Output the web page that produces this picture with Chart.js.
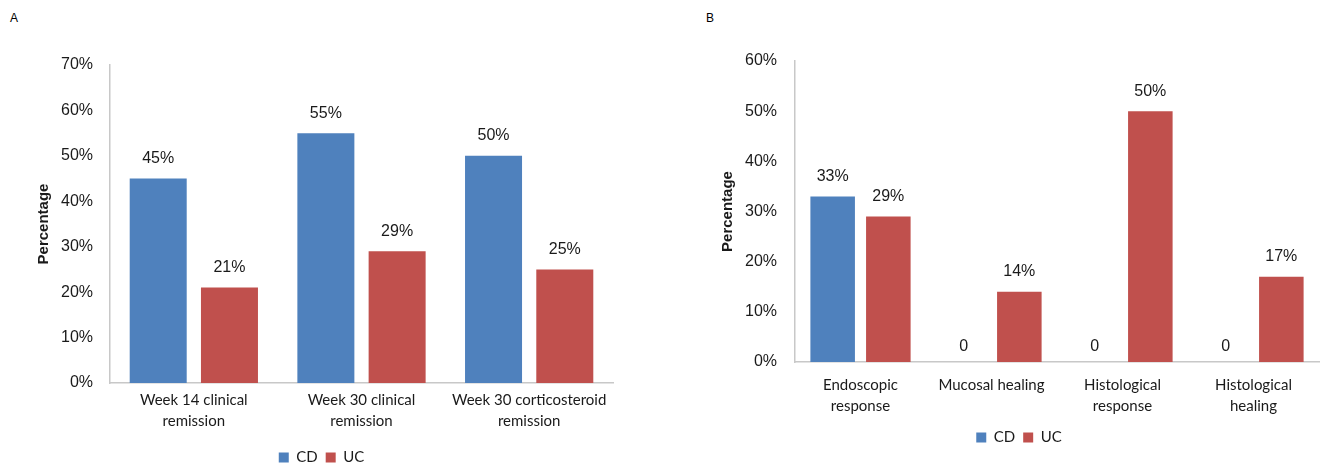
<!DOCTYPE html>
<html>
<head>
<meta charset="utf-8">
<script src="https://cdn.jsdelivr.net/npm/chart.js@4.4.1/dist/chart.umd.min.js"></script>
<style>
  html, body { margin: 0; padding: 0; background: #fff; overflow: hidden; width: 1321px; height: 466px; }
  .panel { position: absolute; top: 0; }
  .tag { position: absolute; top: 11px; font: 12px "Liberation Sans", Arial, sans-serif; color: #000; }
</style>
</head>
<body>
<div class="tag" style="left:10px">A</div>
<div class="tag" style="left:706px">B</div>
<canvas id="chartA" class="panel" style="left:0" width="660" height="475"></canvas>
<canvas id="chartB" class="panel" style="left:660px" width="661" height="455"></canvas>
<script>
const seriesNames = ["CD", "UC"];
const colors = ["#4f81bd", "#c0504d"];

const categoriesA = [
  ["Week 14 clinical", "remission"],
  ["Week 30 clinical", "remission"],
  ["Week 30 corticosteroid", "remission"]
];
const cdA = [45, 55, 50];
const ucA = [21, 29, 25];
const ticksA = { max: 70, step: 10 };

const categoriesB = [
  ["Endoscopic", "response"],
  "Mucosal healing",
  ["Histological", "response"],
  ["Histological", "healing"]
];
const cdB = [33, 0, 0, 0];
const ucB = [29, 14, 50, 17];
const ticksB = { max: 60, step: 10 };

const textColor = "#1a1a1a";

// draws the value above each bar, "0" for empty ones
const valueLabels = {
  id: "valueLabels",
  afterDatasetsDraw(chart) {
    const ctx = chart.ctx;
    ctx.save();
    ctx.font = "16px 'Liberation Sans', Arial, sans-serif";
    ctx.fillStyle = textColor;
    ctx.textAlign = "center";
    ctx.textBaseline = "middle";
    chart.data.datasets.forEach((ds, i) => {
      chart.getDatasetMeta(i).data.forEach((bar, j) => {
        const v = ds.data[j];
        const txt = v === 0 ? "0" : v + "%";
        ctx.fillText(txt, bar.x, bar.y - (v === 0 ? 15 : 20));
      });
    });
    ctx.restore();
  }
};

function makeChart(id, labels, cd, uc, yt, lay) {
  return new Chart(document.getElementById(id), {
    type: "bar",
    data: {
      labels: labels,
      datasets: [
        { label: seriesNames[0], data: cd, backgroundColor: colors[0] },
        { label: seriesNames[1], data: uc, backgroundColor: colors[1] }
      ]
    },
    options: {
      responsive: false,
      animation: false,
      categoryPercentage: 0.85,
      barPercentage: 0.8,
      layout: { padding: { left: lay.left, right: lay.right, top: lay.top, bottom: 0 } },
      plugins: {
        legend: {
          position: "bottom",
          labels: {
            boxWidth: 10, boxHeight: 10, padding: 8, color: textColor,
            font: { family: "Lato, sans-serif", size: 15 }
          }
        },
        tooltip: { enabled: false }
      },
      scales: {
        x: {
          grid: { display: false, drawTicks: false },
          border: { color: "#c8c8c8", width: 1.5 },
          ticks: {
            color: textColor, maxRotation: 0, autoSkip: false, padding: lay.xPad,
            font: { family: "Lato, sans-serif", size: 15, lineHeight: 1.45 }
          },
          afterFit(s) { s.height = lay.xHeight; }
        },
        y: {
          min: 0, max: yt.max,
          grid: { display: false, drawTicks: false },
          border: { color: "#c8c8c8", width: 1.5 },
          ticks: {
            stepSize: yt.step, color: textColor, padding: lay.yPad,
            font: { family: "'Liberation Sans', Arial, sans-serif", size: 16 },
            callback: v => v + "%"
          },
          title: {
            display: true, text: "Percentage", color: textColor,
            padding: { top: lay.titlePad, bottom: 0 },
            font: { family: "'Liberation Sans', Arial, sans-serif", size: 15, weight: "bold" }
          },
          afterFit(s) { s.width = lay.yWidth; }
        }
      }
    },
    plugins: [valueLabels]
  });
}

makeChart("chartA", categoriesA, cdA, ucA, ticksA,
  { left: 30, right: 47, top: 65, yWidth: 80, xHeight: 59, xPad: 6, yPad: 17, titlePad: 5 });
makeChart("chartB", categoriesB, cdB, ucB, ticksB,
  { left: 59, right: 2, top: 61, yWidth: 76, xHeight: 60, xPad: 12, yPad: 18, titlePad: 0 });
</script>
</body>
</html>
